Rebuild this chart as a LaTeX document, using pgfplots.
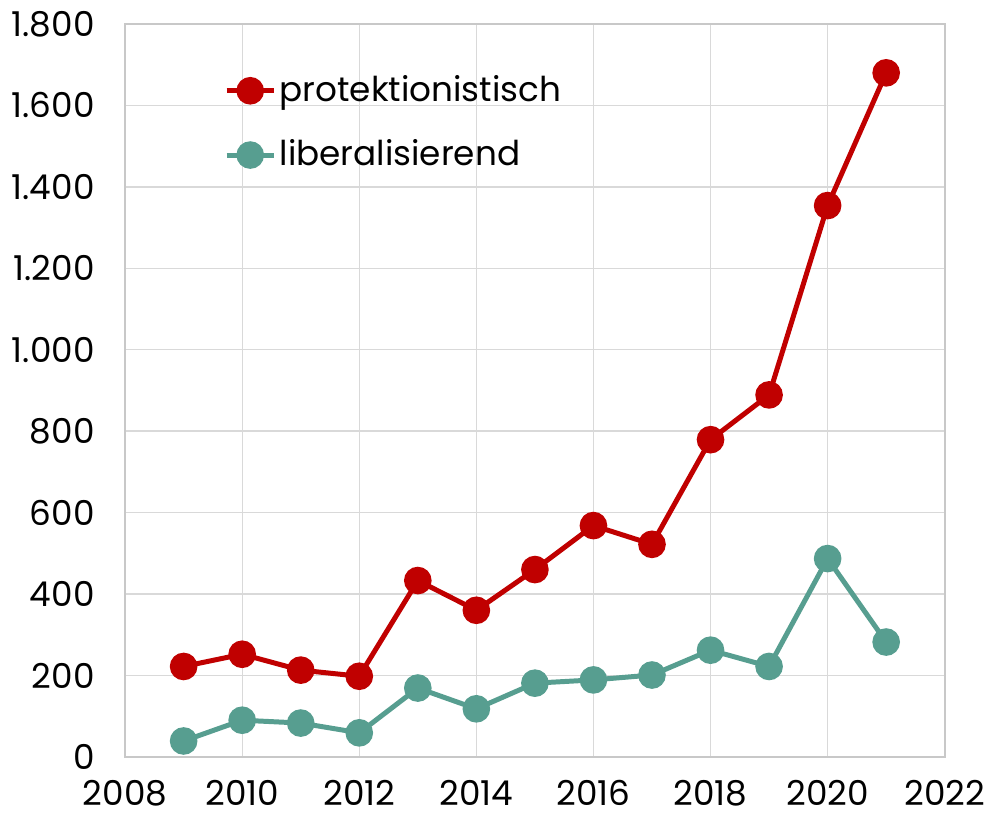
\documentclass[border=0pt]{standalone}
\usepackage{fontspec}
\setmainfont{Poppins}
\usepackage{pgfplots}
\pgfplotsset{compat=1.18}
\definecolor{protRed}{RGB}{192,0,0}
\definecolor{libTeal}{RGB}{87,158,144}
\definecolor{gridGray}{RGB}{217,217,217}
\definecolor{axGray}{RGB}{200,200,200}
\begin{document}
\begin{tikzpicture}
\begin{axis}[scale only axis, width=246.6pt, height=220.5pt,
	xmin=2008, xmax=2022, ymin=0, ymax=1800,
	xtick={2008,2010,...,2022}, ytick={0,200,...,1800},
	grid=major, grid style={gridGray, line width=0.4pt},
	axis line style={axGray, line width=0.5pt},
	major tick length=0pt,
	tick label style={font=\fontsize{10.3}{12}\selectfont, text=black},
	/pgf/number format/assume math mode=true,
	/pgf/number format/1000 sep={.},
	xticklabel style={/pgf/number format/1000 sep={}, inner xsep=0pt, yshift=-3.5pt},
	yticklabel style={inner xsep=0pt, xshift=-9pt},
	legend style={draw=none, fill=none, at={(0.12,0.94)}, anchor=north west,
		font=\fontsize{10.3}{12}\selectfont, row sep=6pt,
		inner sep=0pt, nodes={inner xsep=1pt}},
	legend cell align=left,
	legend image code/.code={
		\draw[#1, mark=none] (0cm,0cm) -- (0.5cm,0cm);
		\draw[#1, only marks] plot coordinates {(0.25cm,0cm)};},
]
\addplot[protRed, line width=1.5pt, mark=*, mark size=3.4pt,
	mark options={fill=protRed, draw=protRed}] coordinates {
	(2009,222) (2010,252) (2011,213) (2012,198) (2013,433) (2014,360)
	(2015,460) (2016,568) (2017,522) (2018,779) (2019,889) (2020,1354)
	(2021,1680)};
\addlegendentry{protektionistisch}
\addplot[libTeal, line width=1.5pt, mark=*, mark size=3.4pt,
	mark options={fill=libTeal, draw=libTeal}] coordinates {
	(2009,39) (2010,90) (2011,83) (2012,59) (2013,169) (2014,118)
	(2015,181) (2016,189) (2017,201) (2018,262) (2019,222) (2020,487)
	(2021,282)};
\addlegendentry{liberalisierend}
\end{axis}
% a little white room on the left, as in the reference
\path (current bounding box.west) ++(-3.5pt,0) coordinate (padL);
\end{tikzpicture}
\end{document}
